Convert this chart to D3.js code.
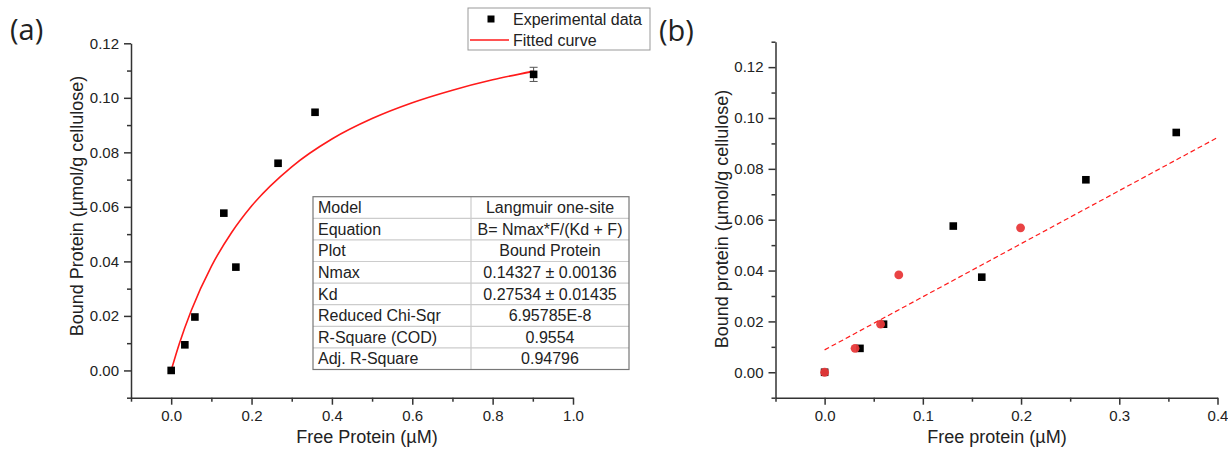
<!DOCTYPE html>
<html>
<head>
<meta charset="utf-8">
<script src="https://cdn.jsdelivr.net/npm/d3@7"></script>
<style>
  body { margin: 0; background: #fff; }
  svg text { font-family: "Liberation Sans", Arial, sans-serif; fill: #222; }
</style>
</head>
<body>
<svg id="chart" width="1228" height="452"></svg>
<script>
// panel (a) - experimental data
const freeA  = [0, 0.034, 0.059, 0.131, 0.161, 0.266, 0.358, 0.902];
const boundA = [0, 0.0094, 0.0196, 0.0577, 0.0379, 0.0760, 0.0947, 0.1086];
const errA   = [0, 0, 0, 0, 0, 0, 0, 0.0026];

// panel (a) - fitted Langmuir curve
const fitF = [0, 0.02, 0.05, 0.1, 0.15, 0.2, 0.3, 0.4, 0.5, 0.6, 0.7, 0.8, 0.9];
const fitB = [0, 0.0097, 0.0220, 0.0382, 0.0505, 0.0603, 0.0747, 0.0849, 0.0924, 0.0982, 0.1028, 0.1066, 0.1097];

// fit table
const tableKeys = ["Model", "Equation", "Plot", "Nmax", "Kd", "Reduced Chi-Sqr", "R-Square (COD)", "Adj. R-Square"];
const tableVals = ["Langmuir one-site", "B= Nmax*F/(Kd + F)", "Bound Protein", "0.14327 \u00b1 0.00136",
                   "0.27534 \u00b1 0.01435", "6.95785E-8", "0.9554", "0.94796"];

// panel (b) - squares and circles
const freeB  = [0, 0.036, 0.060, 0.131, 0.160, 0.266, 0.358];
const boundB = [0, 0.0094, 0.0189, 0.0575, 0.0374, 0.0757, 0.0943];
const freeC  = [0, 0.031, 0.057, 0.0755, 0.1995];
const boundC = [0, 0.0094, 0.0189, 0.0383, 0.0568];
// linear trend (dashed)
const lineF = [0, 0.4];
const lineB = [0.0088, 0.0923];

// tick values
const xTicksA = [0, 0.2, 0.4, 0.6, 0.8, 1.0];
const xMinorA = [-0.1, 0.1, 0.3, 0.5, 0.7, 0.9];
const yTicksA = [0, 0.02, 0.04, 0.06, 0.08, 0.10, 0.12];
const yMinorA = [-0.01, 0.01, 0.03, 0.05, 0.07, 0.09, 0.11];
const xTicksB = [0, 0.1, 0.2, 0.3, 0.4];
const xMinorB = [-0.05, 0.05, 0.15, 0.25, 0.35];
const yTicksB = [0, 0.02, 0.04, 0.06, 0.08, 0.10, 0.12];
const yMinorB = [-0.01, 0.01, 0.03, 0.05, 0.07, 0.09, 0.11, 0.13];

const svg = d3.select("#chart");
const red = "#ff1a1a";

function drawAxes(x, y, xT, xM, yT, yM, xFmt, yFmt) {
    const xr = x.range(), yr = y.range();
    const gx = svg.append("g").attr("transform", `translate(0,${yr[0]})`);
    gx.call(d3.axisBottom(x).tickValues(xM).tickSize(4).tickSizeOuter(0).tickFormat(""));
    gx.call(g => g.select(".domain").remove());
    const gx2 = svg.append("g").attr("transform", `translate(0,${yr[0]})`)
        .call(d3.axisBottom(x).tickValues(xT).tickSize(7).tickSizeOuter(0).tickPadding(6).tickFormat(d3.format(xFmt)));
    const gy = svg.append("g").attr("transform", `translate(${xr[0]},0)`);
    gy.call(d3.axisLeft(y).tickValues(yM).tickSize(4).tickSizeOuter(0).tickFormat(""));
    gy.call(g => g.select(".domain").remove());
    const gy2 = svg.append("g").attr("transform", `translate(${xr[0]},0)`)
        .call(d3.axisLeft(y).tickValues(yT).tickSize(7).tickSizeOuter(0).tickPadding(5).tickFormat(d3.format(yFmt)));
    [gx, gx2, gy, gy2].forEach(g => {
        g.selectAll("path, line").attr("stroke", "#333").attr("stroke-width", 1.5);
        g.selectAll("text").attr("font-size", "15px").attr("fill", "#222")
            .attr("font-family", '"Liberation Sans", Arial, sans-serif');
    });
}

// ---------- panel (a) ----------
const xA = d3.scaleLinear().domain([-0.1, 1.0]).range([131, 573]);
const yA = d3.scaleLinear().domain([-0.01, 0.12]).range([397.7, 43.3]);
drawAxes(xA, yA, xTicksA, xMinorA, yTicksA, yMinorA, ".1f", ".2f");

svg.append("text").attr("x", 10).attr("y", 40).text("(a)")
    .style("font-family", '"Open Sans", sans-serif').attr("font-size", "29px");

svg.append("text").attr("x", 367).attr("y", 443).attr("text-anchor", "middle")
    .attr("font-size", "18px").text("Free Protein (\u00b5M)");
svg.append("text").attr("transform", "translate(83,206) rotate(-90)").attr("text-anchor", "middle")
    .attr("font-size", "18px").text("Bound Protein (\u00b5mol/g cellulose)");

const fitData = fitF.map((f, i) => ({ f, b: fitB[i] }));
svg.append("path").datum(fitData)
    .attr("fill", "none").attr("stroke", red).attr("stroke-width", 1.6)
    .attr("d", d3.line().x(d => xA(d.f)).y(d => yA(d.b)).curve(d3.curveMonotoneX));

const dataA = freeA.map((f, i) => ({ f, b: boundA[i], e: errA[i] }));
const errG = svg.append("g");
dataA.filter(d => d.e > 0).forEach(d => {
    const cx = xA(d.f);
    errG.append("line").attr("x1", cx).attr("x2", cx).attr("y1", yA(d.b + d.e)).attr("y2", yA(d.b - d.e))
        .attr("stroke", "#555").attr("stroke-width", 1);
    [d.b + d.e, d.b - d.e].forEach(v => errG.append("line")
        .attr("x1", cx - 4).attr("x2", cx + 4).attr("y1", yA(v)).attr("y2", yA(v))
        .attr("stroke", "#555").attr("stroke-width", 1));
});
svg.append("g").selectAll("rect").data(dataA).join("rect")
    .attr("x", d => xA(d.f) - 3.8).attr("y", d => yA(d.b) - 3.8)
    .attr("width", 7.6).attr("height", 7.6).attr("fill", "#000");

// legend
const lg = svg.append("g");
lg.append("rect").attr("x", 468).attr("y", 8).attr("width", 182).attr("height", 42)
    .attr("fill", "#fff").attr("stroke", "#999").attr("stroke-width", 1);
lg.append("rect").attr("x", 487.5).attr("y", 15.5).attr("width", 7).attr("height", 7).attr("fill", "#000");
lg.append("line").attr("x1", 470).attr("x2", 509).attr("y1", 40).attr("y2", 40)
    .attr("stroke", red).attr("stroke-width", 1.5);
lg.append("text").attr("x", 513).attr("y", 25).attr("font-size", "16px").text("Experimental data");
lg.append("text").attr("x", 513).attr("y", 46).attr("font-size", "16px").text("Fitted curve");

// table
const tX0 = 313, tX1 = 471, tX2 = 629, tY0 = 196.7, rowH = 21.6;
const tb = svg.append("g");
tb.append("rect").attr("x", tX0).attr("y", tY0).attr("width", tX2 - tX0).attr("height", rowH * tableKeys.length)
    .attr("fill", "#fff");
tableKeys.forEach((k, i) => {
    const top = tY0 + i * rowH;
    if (i > 0) tb.append("line").attr("x1", tX0).attr("x2", tX2).attr("y1", top).attr("y2", top)
        .attr("stroke", "#ccc").attr("stroke-width", 1.2);
    tb.append("text").attr("x", tX0 + 5).attr("y", top + 16.5).attr("font-size", "16px").text(k);
    tb.append("text").attr("x", (tX1 + tX2) / 2).attr("y", top + 16.5).attr("text-anchor", "middle")
        .attr("font-size", "16px").text(tableVals[i]);
});
tb.append("line").attr("x1", tX1).attr("x2", tX1).attr("y1", tY0).attr("y2", tY0 + rowH * tableKeys.length)
    .attr("stroke", "#ccc").attr("stroke-width", 1.2);
tb.append("rect").attr("x", tX0).attr("y", tY0).attr("width", tX2 - tX0).attr("height", rowH * tableKeys.length)
    .attr("fill", "none").attr("stroke", "#777").attr("stroke-width", 1.2);

// ---------- panel (b) ----------
const xB = d3.scaleLinear().domain([-0.05, 0.4]).range([775.5, 1217.5]);
const yB = d3.scaleLinear().domain([-0.01, 0.13]).range([397.7, 41.7]);
drawAxes(xB, yB, xTicksB, xMinorB, yTicksB, yMinorB, ".1f", ".2f");

svg.append("text").attr("x", 659).attr("y", 41).text("(b)")
    .style("font-family", '"Open Sans", sans-serif').attr("font-size", "29px");

svg.append("text").attr("x", 997).attr("y", 443).attr("text-anchor", "middle")
    .attr("font-size", "18px").text("Free protein (\u00b5M)");
svg.append("text").attr("transform", "translate(728,219) rotate(-90)").attr("text-anchor", "middle")
    .attr("font-size", "18px").text("Bound protein (\u00b5mol/g cellulose)");

const lineData = lineF.map((f, i) => ({ f, b: lineB[i] }));
svg.append("path").datum(lineData)
    .attr("fill", "none").attr("stroke", red).attr("stroke-width", 1.2).attr("stroke-dasharray", "5,3")
    .attr("d", d3.line().x(d => xB(d.f)).y(d => yB(d.b)));

svg.append("g").selectAll("rect").data(freeB.map((f, i) => ({ f, b: boundB[i] }))).join("rect")
    .attr("x", d => xB(d.f) - 3.8).attr("y", d => yB(d.b) - 3.8)
    .attr("width", 7.6).attr("height", 7.6).attr("fill", "#000");

svg.append("g").selectAll("circle").data(freeC.map((f, i) => ({ f, b: boundC[i] }))).join("circle")
    .attr("cx", d => xB(d.f)).attr("cy", d => yB(d.b)).attr("r", 4.4)
    .attr("fill", "#e8393a").attr("fill-opacity", 0.95);
</script>
</body>
</html>
